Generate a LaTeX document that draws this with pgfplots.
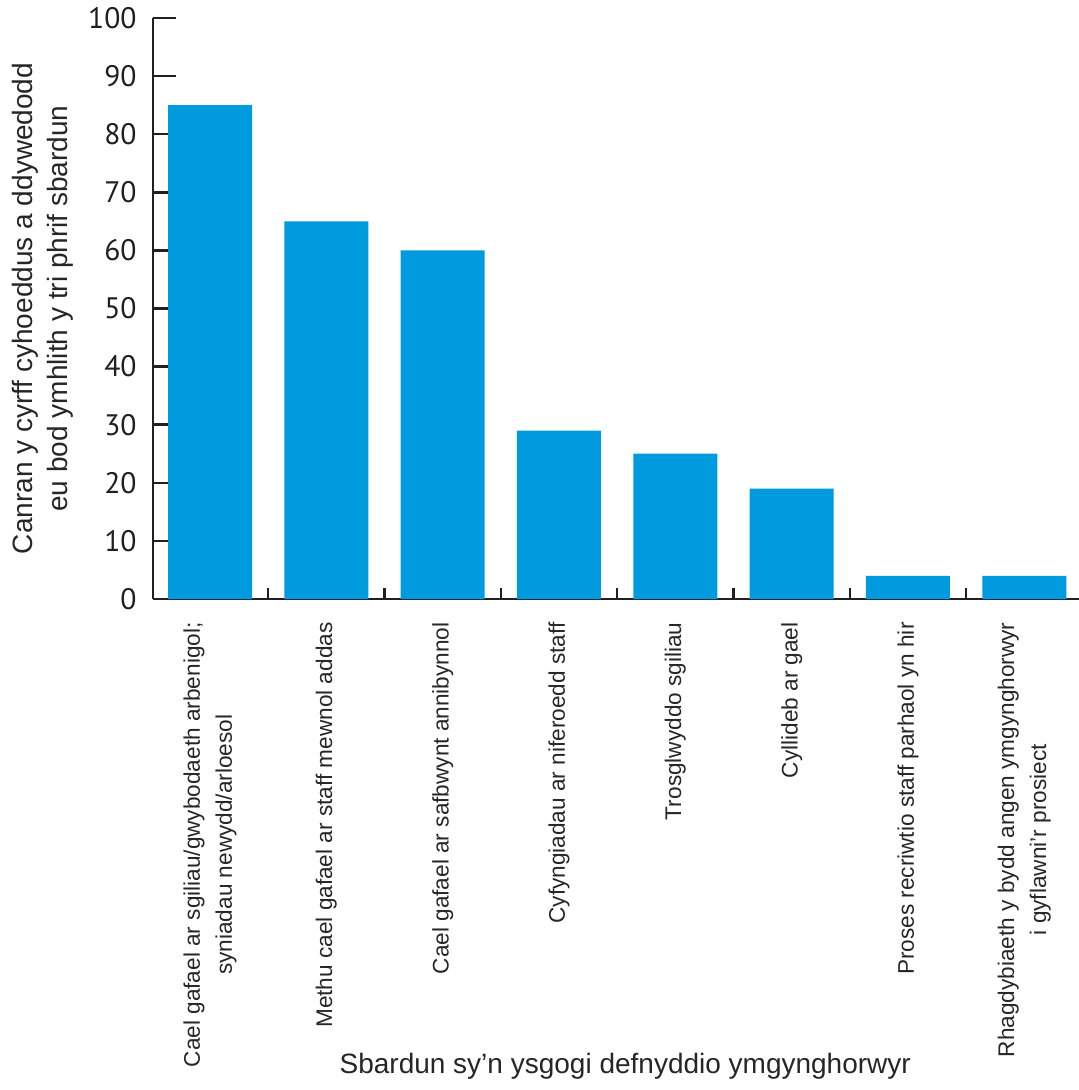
\documentclass[border=0pt]{standalone}
\usepackage{fontspec}
\setmainfont{Liberation Sans}
\newfontfamily\numfont{PT Sans}
\usepackage{pgfplots}
\pgfplotsset{compat=1.18}
\definecolor{barblue}{RGB}{0,155,222}
\definecolor{axiscol}{RGB}{35,31,32}
\begin{document}
\begin{tikzpicture}
\path[use as bounding box] (-76.5pt,-245.5pt) rectangle (463pt,299.5pt);
\begin{axis}[
  at={(0,0)}, anchor=south west,
  scale only axis, width=463pt, height=290.5pt,
  xmin=-0.49, xmax=7.47, ymin=0, ymax=100,
  axis lines*=left,
  axis line style={line width=1.25pt, draw=axiscol},
  tick align=inside,
  major tick length=11.5pt,
  minor tick length=-5.5pt,
  tick style={line width=1.25pt, draw=axiscol},
  ytick={0,10,...,100},
  /pgf/number format/assume math mode=true,
  yticklabel style={font=\numfont\fontsize{14.8}{16}\selectfont, anchor=east, inner xsep=8pt, inner ysep=0pt, text=black!88},
  xtick={0,...,7},
  xtick style={draw=none},
  minor xtick={0.5,1.5,...,6.5},
  minor x tick style={draw=axiscol, line width=1.25pt},
  xticklabels={
    {Cael gafael ar sgiliau/gwybodaeth arbenigol;\\syniadau newydd/arloesol},
    {Methu cael gafael ar staff mewnol addas},
    {Cael gafael ar safbwynt annibynnol},
    {Cyfyngiadau ar niferoedd staff},
    {Trosglwyddo sgiliau},
    {Cyllideb ar gael},
    {Proses recriwtio staff parhaol yn hir},
    {Rhagdybiaeth y bydd angen ymgynghorwyr\\i gyflawni'r prosiect}},
  xticklabel style={rotate=90, anchor=east, align=center, inner xsep=0pt, inner ysep=0pt,
    font=\fontsize{11.3}{16}\selectfont, text=black!85},
  ylabel={Canran y cyrff cyhoeddus a ddywedodd\\eu bod ymhlith y tri phrif sbardun},
  ylabel style={align=center, font=\fontsize{14}{17.5}\selectfont, at={(axis description cs:-0.1193,0.5)}, anchor=center, text=black!85},
  xlabel={Sbardun sy'n ysgogi defnyddio ymgynghorwyr},
  xlabel style={font=\fontsize{14}{17}\selectfont, at={(axis description cs:0.51,-0.805)}, anchor=center, text=black!85},
  ybar, bar width=42pt,
]
\addplot[fill=barblue, draw=none] coordinates {(0,85) (1,65) (2,60) (3,29) (4,25) (5,19) (6,4) (7,4)};
\end{axis}
\end{tikzpicture}
\end{document}
